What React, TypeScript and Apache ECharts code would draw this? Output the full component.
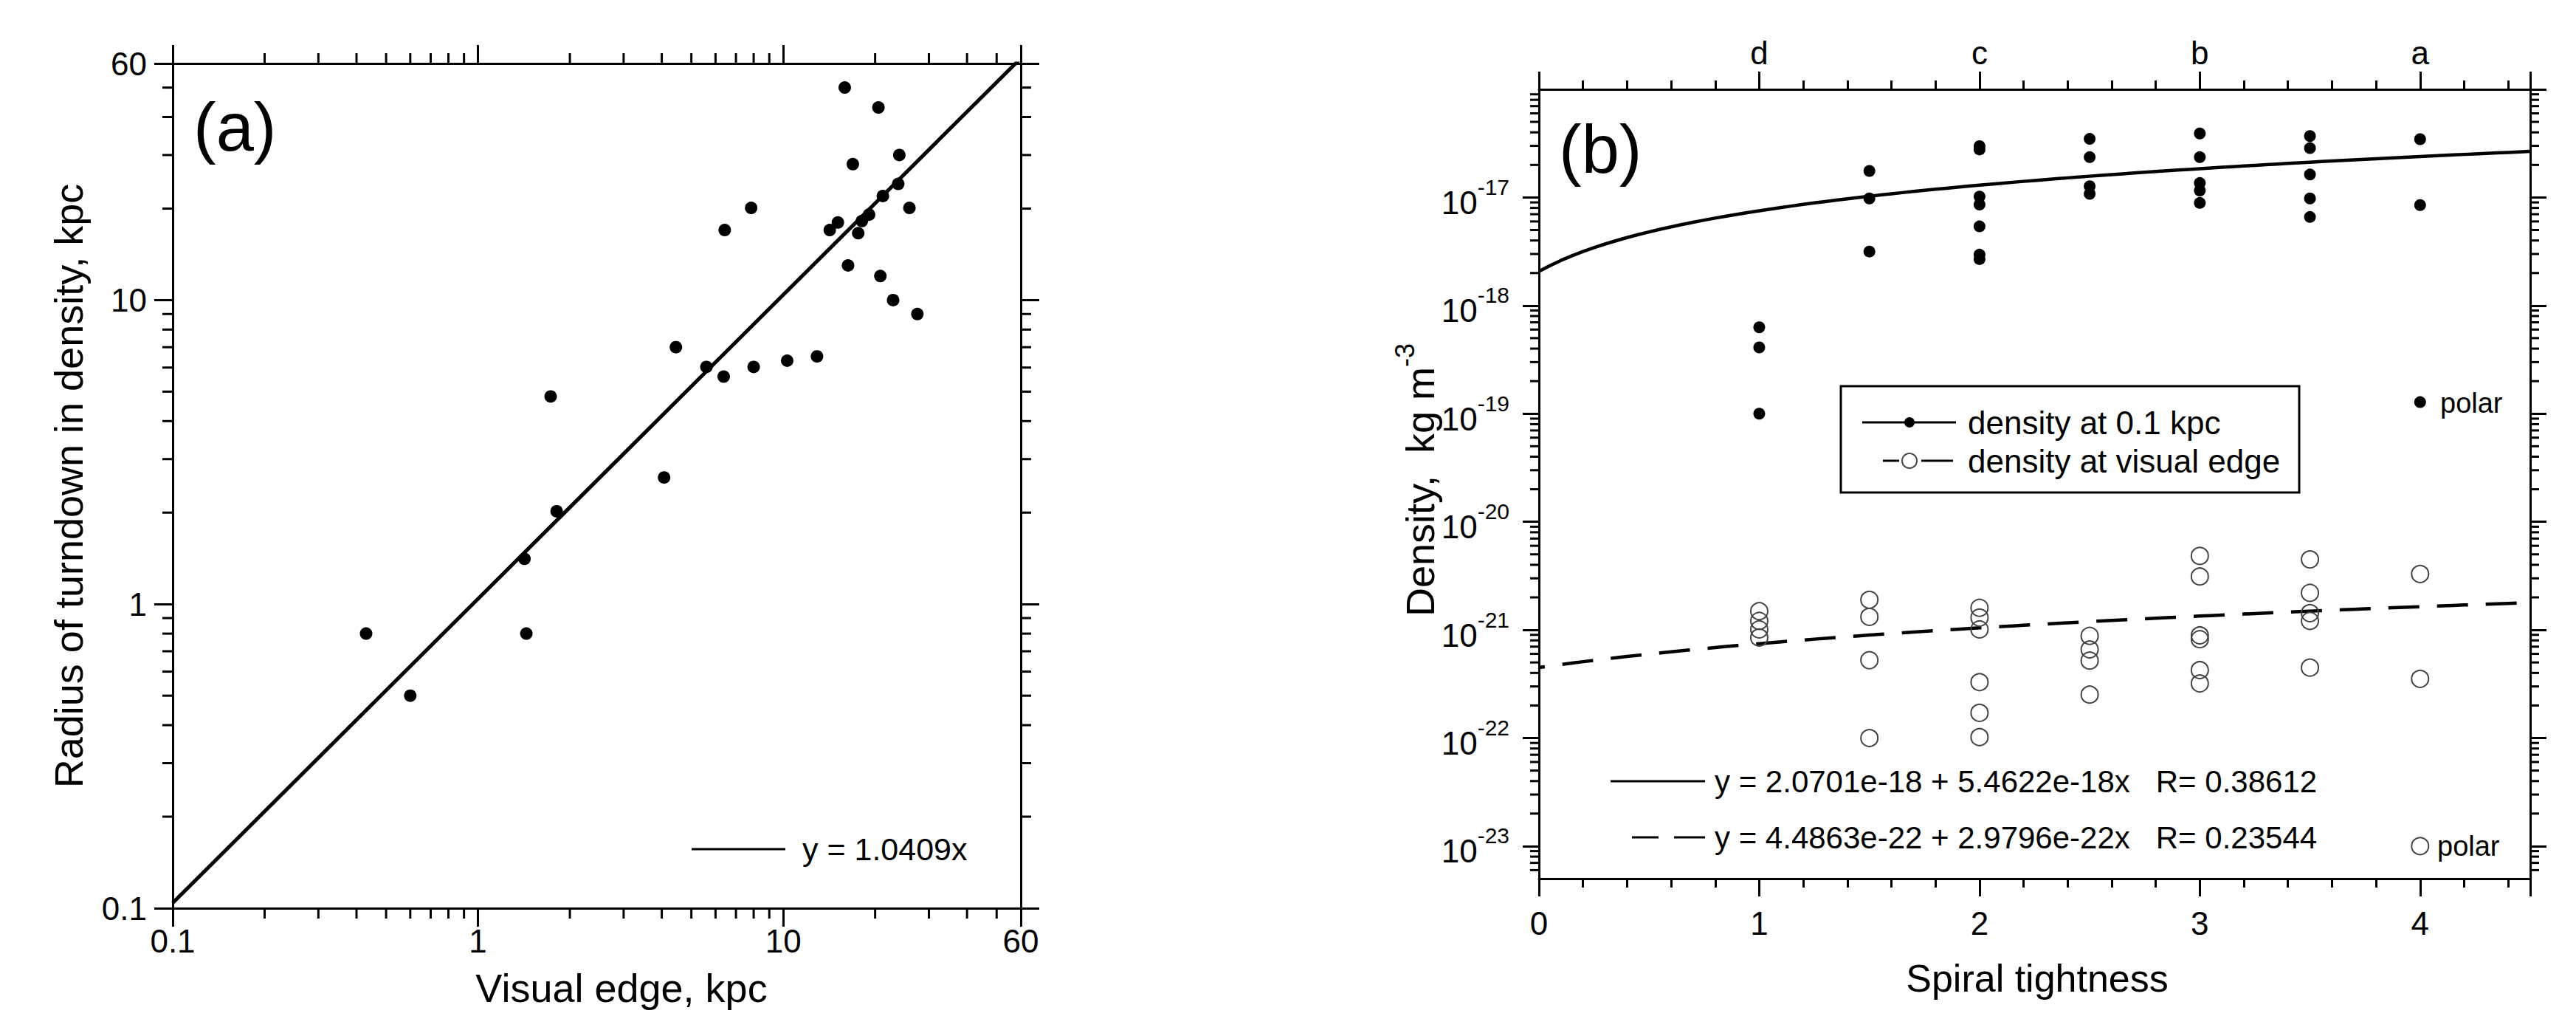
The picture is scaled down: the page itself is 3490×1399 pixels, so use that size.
import React, { useEffect, useRef } from 'react';
import * as echarts from 'echarts';

const FONT = '"Liberation Sans", Arial, Helvetica, sans-serif';

// ---------- Panel (a) data ----------
const A_VISUAL_EDGE = [0.43, 0.6, 1.42, 1.44, 1.73, 1.81, 4.07, 4.45, 5.6, 6.38, 8.0, 10.3, 12.9, 6.43, 7.85, 14.2, 15.1, 15.9, 16.3, 16.9, 17.6, 18.1, 19.1, 20.5, 20.8, 21.2, 22.9, 24.0, 23.8, 25.9, 27.5];
const A_TURNDOWN = [0.8, 0.5, 1.41, 0.8, 4.82, 2.02, 2.61, 7.0, 6.03, 5.6, 6.03, 6.32, 6.53, 17.0, 20.1, 17.0, 18.0, 50.0, 13.0, 28.0, 16.6, 18.2, 19.1, 43.0, 12.0, 22.0, 10.0, 30.0, 24.1, 20.1, 9.0];
const A_FIT_SLOPE = 1.0409;
const A_FIT_X = [0.1, 60];
const A_MIN = 0.1;
const A_MAX = 60;

// ---------- Panel (b) data ----------
const B_FILLED_X = [1, 1, 1, 1.5, 1.5, 1.5, 2, 2, 2, 2, 2, 2, 2, 2.5, 2.5, 2.5, 2.5, 3, 3, 3, 3, 3, 3.5, 3.5, 3.5, 3.5, 3.5, 4, 4, 4];
const B_FILLED_Y = [6.3e-19, 4.1e-19, 1.0e-19, 1.76e-17, 9.8e-18, 3.16e-18, 2.98e-17, 2.78e-17, 1.02e-17, 8.6e-18, 5.4e-18, 2.96e-18, 2.69e-18, 3.48e-17, 2.36e-17, 1.27e-17, 1.08e-17, 3.91e-17, 2.36e-17, 1.36e-17, 1.16e-17, 8.9e-18, 3.7e-17, 2.86e-17, 1.63e-17, 9.8e-18, 6.6e-18, 3.46e-17, 8.5e-18, 1.28e-19];
const B_OPEN_X = [1, 1, 1, 1, 1.5, 1.5, 1.5, 1.5, 2, 2, 2, 2, 2, 2, 2.5, 2.5, 2.5, 2.5, 3, 3, 3, 3, 3, 3, 3.5, 3.5, 3.5, 3.5, 3.5, 4, 4, 4];
const B_OPEN_Y = [1.49e-21, 1.21e-21, 1.01e-21, 8.5e-22, 1.9e-21, 1.32e-21, 5.25e-22, 1.0e-22, 1.6e-21, 1.3e-21, 1.01e-21, 3.29e-22, 1.71e-22, 1.02e-22, 8.8e-22, 6.6e-22, 5.2e-22, 2.52e-22, 4.83e-21, 3.12e-21, 8.9e-22, 8.2e-22, 4.25e-22, 3.2e-22, 4.49e-21, 2.2e-21, 1.43e-21, 1.21e-21, 4.48e-22, 3.29e-21, 3.53e-22, 1.0e-23];
const B_FIT1_A = 2.0701e-18;
const B_FIT1_B = 5.4622e-18;
const B_FIT2_A = 4.4863e-22;
const B_FIT2_B = 2.9796e-22;
const B_X_MIN = 0;
const B_X_MAX = 4.5;
const B_Y_MIN = 5e-24;
const B_Y_MAX = 1e-16;
const B_TOP_LABELS: Record<number, string> = { 1: 'd', 2: 'c', 3: 'b', 4: 'a' };

// log minor tick multipliers
const LOG_MINOR_STEPS = [2, 3, 4, 5, 6, 7, 8, 9];
const A_DECADES = [0.1, 1, 10];
const B_DECADES = [1e-24, 1e-23, 1e-22, 1e-21, 1e-20, 1e-19, 1e-18, 1e-17];

function minorValues(decades: number[], lo: number, hi: number) {
  const out: number[] = [];
  decades.forEach((d) => LOG_MINOR_STEPS.forEach((s) => {
    const v = s * d;
    if (v > lo * 1.0001 && v < hi * 0.9999) out.push(v);
  }));
  return out;
}

const fitSamples = (a: number, b: number) => {
  const pts: number[][] = [];
  for (let i = 0; i <= 90; i++) {
    const x = (i * B_X_MAX) / 90;
    pts.push([x, a + b * x]);
  }
  return pts;
};

const BLACK = '#000';
const lineStyle = { color: BLACK, width: 3 };

const plainFmt = (v: number) => String(parseFloat(Number(v).toPrecision(4)));
const powFmt = (v: number) => {
  const e = Math.log10(v);
  if (Math.abs(e - Math.round(e)) > 0.01) return '';
  if (Math.round(e) >= -16) return '';
  return '{b|10}{s|' + Math.round(e) + '}';
};

function tickSeries(kind: 'x' | 'y', xi: number, yi: number, values: number[], other: number, len: number) {
  return {
    type: 'custom',
    xAxisIndex: xi,
    yAxisIndex: yi,
    silent: true,
    z: 5,
    data: values.map((v) => (kind === 'x' ? [v, other] : [other, v])),
    renderItem: (params: any, api: any) => {
      const cs = params.coordSys;
      const p = api.coord([api.value(0), api.value(1)]);
      const st = { stroke: BLACK, lineWidth: 3 };
      if (kind === 'x') {
        return {
          type: 'group',
          children: [
            { type: 'line', shape: { x1: p[0], y1: cs.y + cs.height, x2: p[0], y2: cs.y + cs.height + len }, style: st },
            { type: 'line', shape: { x1: p[0], y1: cs.y, x2: p[0], y2: cs.y - len }, style: st },
          ],
        };
      }
      return {
        type: 'group',
        children: [
          { type: 'line', shape: { x1: cs.x - len, y1: p[1], x2: cs.x, y2: p[1] }, style: st },
          { type: 'line', shape: { x1: cs.x + cs.width, y1: p[1], x2: cs.x + cs.width + len, y2: p[1] }, style: st },
        ],
      };
    },
  };
}

function logAxis(grid: number, pos: string, min: number, max: number, tickLen: number, label: any) {
  return {
    type: 'log',
    logBase: 10,
    gridIndex: grid,
    position: pos,
    min,
    max,
    axisLine: { show: true, onZero: false, lineStyle },
    axisTick: { show: true, inside: false, length: tickLen, lineStyle },
    axisLabel: label,
    splitLine: { show: false },
    minorTick: { show: false },
    minorSplitLine: { show: false },
  };
}

function valueAxis(grid: number, pos: string, label: any) {
  return {
    type: 'value',
    gridIndex: grid,
    position: pos,
    min: B_X_MIN,
    max: B_X_MAX,
    interval: 1,
    axisLine: { show: true, onZero: false, lineStyle },
    axisTick: { show: true, inside: false, length: 24, lineStyle },
    minorTick: { show: true, splitNumber: 5, length: 12, lineStyle },
    axisLabel: label,
    splitLine: { show: false },
    minorSplitLine: { show: false },
  };
}

const labelBase = { color: BLACK, fontSize: 44, fontFamily: FONT };

function buildOption() {
  const aFit = A_FIT_X.map((x) => [x, A_FIT_SLOPE * x]);
  const aPts = A_VISUAL_EDGE.map((x, i) => [x, A_TURNDOWN[i]]);
  const bFilled = B_FILLED_X.map((x, i) => [x, B_FILLED_Y[i]]);
  const bOpen = B_OPEN_X.map((x, i) => [x, B_OPEN_Y[i]]);

  const txt = (x: number, y: number, text: string, size: number, align = 'left', extra: any = {}) => ({
    type: 'text',
    x,
    y,
    z: 20,
    ...extra,
    style: {
      text,
      fill: BLACK,
      fontSize: size,
      fontFamily: FONT,
      align,
      textAlign: align,
      verticalAlign: 'middle',
      textVerticalAlign: 'middle',
      ...(extra.style || {}),
    },
  });
  const seg = (x1: number, y1: number, x2: number, y2: number, w = 3) => ({
    type: 'line',
    z: 20,
    shape: { x1, y1, x2, y2 },
    style: { stroke: BLACK, lineWidth: w },
  });

  return {
    animation: false,
    backgroundColor: '#fff',
    textStyle: { fontFamily: FONT },
    grid: [
      { left: 234, top: 86, width: 1149, height: 1144, outerBoundsMode: 'none', containLabel: false },
      { left: 2085, top: 121, width: 1343, height: 1069, outerBoundsMode: 'none', containLabel: false },
    ],
    xAxis: [
      logAxis(0, 'bottom', A_MIN, A_MAX, 25, { ...labelBase, margin: 22, formatter: plainFmt, showMinLabel: true, showMaxLabel: true }),
      logAxis(0, 'top', A_MIN, A_MAX, 25, { show: false }),
      valueAxis(1, 'bottom', { ...labelBase, margin: 38, formatter: (v: number) => (Number.isInteger(v) ? String(v) : ''), showMaxLabel: false }),
      valueAxis(1, 'top', { ...labelBase, margin: 28, formatter: (v: number) => B_TOP_LABELS[v] || '', showMaxLabel: false }),
    ],
    yAxis: [
      logAxis(0, 'left', A_MIN, A_MAX, 25, { ...labelBase, margin: 35, formatter: plainFmt, showMinLabel: true, showMaxLabel: true }),
      logAxis(0, 'right', A_MIN, A_MAX, 25, { show: false }),
      logAxis(1, 'left', B_Y_MIN, B_Y_MAX, 22, {
        ...labelBase,
        margin: 40,
        showMinLabel: false,
        showMaxLabel: false,
        formatter: powFmt,
        rich: {
          b: { fontSize: 44, fontFamily: FONT, color: BLACK, lineHeight: 58, verticalAlign: 'bottom' },
          s: { fontSize: 30, fontFamily: FONT, color: BLACK, lineHeight: 30, verticalAlign: 'top' },
        },
      }),
      logAxis(1, 'right', B_Y_MIN, B_Y_MAX, 22, { show: false }),
    ],
    series: [
      {
        type: 'line',
        xAxisIndex: 0,
        yAxisIndex: 0,
        data: aFit,
        showSymbol: false,
        symbol: 'none',
        clip: true,
        lineStyle: { color: BLACK, width: 5 },
        z: 3,
      },
      {
        type: 'scatter',
        xAxisIndex: 0,
        yAxisIndex: 0,
        data: aPts,
        symbol: 'circle',
        symbolSize: 17,
        itemStyle: { color: BLACK, opacity: 1 },
        z: 4,
      },
      tickSeries('x', 0, 0, minorValues(A_DECADES, A_MIN, A_MAX), 1, 14),
      tickSeries('y', 0, 0, minorValues(A_DECADES, A_MIN, A_MAX), 1, 14),
      {
        type: 'line',
        xAxisIndex: 2,
        yAxisIndex: 2,
        data: fitSamples(B_FIT1_A, B_FIT1_B),
        showSymbol: false,
        symbol: 'none',
        clip: true,
        lineStyle: { color: BLACK, width: 4.5 },
        z: 3,
      },
      {
        type: 'line',
        xAxisIndex: 2,
        yAxisIndex: 2,
        data: fitSamples(B_FIT2_A, B_FIT2_B),
        showSymbol: false,
        symbol: 'none',
        clip: true,
        lineStyle: { color: BLACK, width: 4.5, type: [42, 24], dashOffset: 34 },
        z: 3,
      },
      {
        type: 'scatter',
        xAxisIndex: 2,
        yAxisIndex: 2,
        data: bFilled,
        symbol: 'circle',
        symbolSize: 16,
        itemStyle: { color: BLACK, opacity: 1 },
        z: 4,
      },
      {
        type: 'scatter',
        xAxisIndex: 2,
        yAxisIndex: 2,
        data: bOpen,
        symbol: 'circle',
        symbolSize: 23,
        itemStyle: { color: 'rgba(255,255,255,0)', borderColor: '#444', borderWidth: 2, opacity: 1 },
        z: 4,
      },
      tickSeries('y', 2, 2, minorValues(B_DECADES, B_Y_MIN, B_Y_MAX), 1, 12),
    ],
    graphic: [
      // panel (a)
      txt(262, 172, '(a)', 92),
      seg(937, 1150, 1064, 1150),
      txt(1087, 1150, 'y = 1.0409x', 43),
      txt(842, 1338, 'Visual edge, kpc', 54, 'center'),
      txt(93, 658, 'Radius of turndown in density, kpc', 54, 'center', { rotation: Math.PI / 2 }),
      // panel (b)
      txt(2112, 202, '(b)', 92),
      txt(2760, 1325, 'Spiral tightness', 52, 'center'),
      {
        type: 'text',
        x: 1918,
        y: 650,
        rotation: Math.PI / 2,
        z: 20,
        style: {
          text: '{a|Density,  kg m}{s|-3}',
          align: 'center',
          textAlign: 'center',
          verticalAlign: 'middle',
          textVerticalAlign: 'middle',
          rich: {
            a: { fontSize: 54, fontFamily: FONT, color: BLACK, lineHeight: 66, verticalAlign: 'bottom' },
            s: { fontSize: 36, fontFamily: FONT, color: BLACK, lineHeight: 36, verticalAlign: 'top' },
          },
        },
      },
      // legend box
      {
        type: 'rect',
        z: 19,
        shape: { x: 2494, y: 523, width: 621, height: 144 },
        style: { fill: '#fff', stroke: BLACK, lineWidth: 3 },
      },
      seg(2523, 572, 2650, 572),
      { type: 'circle', z: 21, shape: { cx: 2587, cy: 572, r: 7 }, style: { fill: BLACK } },
      txt(2666, 572, 'density at 0.1 kpc', 44),
      seg(2551, 624, 2573, 624),
      seg(2603, 624, 2646, 624),
      { type: 'circle', z: 21, shape: { cx: 2587, cy: 624, r: 10 }, style: { fill: '#fff', stroke: '#444', lineWidth: 2 } },
      txt(2666, 624, 'density at visual edge', 44),
      // polar labels
      txt(3306, 546, 'polar', 38),
      txt(3302, 1146, 'polar', 38),
      // fit equations
      seg(2182, 1058, 2310, 1058),
      txt(2323, 1058, 'y = 2.0701e-18 + 5.4622e-18x   R= 0.38612', 42),
      seg(2211, 1134, 2247, 1134),
      seg(2268, 1134, 2310, 1134),
      txt(2323, 1134, 'y = 4.4863e-22 + 2.9796e-22x   R= 0.23544', 42),
    ],
  };
}

export default function App() {
  const ref = useRef<HTMLDivElement>(null);
  useEffect(() => {
    document.body.style.margin = '0';
    document.body.style.overflow = 'hidden';
    const chart = echarts.init(ref.current as HTMLDivElement, null, { renderer: 'svg' });
    chart.setOption(buildOption() as any);
    return () => chart.dispose();
  }, []);
  return <div ref={ref} style={{ width: 3490, height: 1399, background: '#fff' }} />;
}
